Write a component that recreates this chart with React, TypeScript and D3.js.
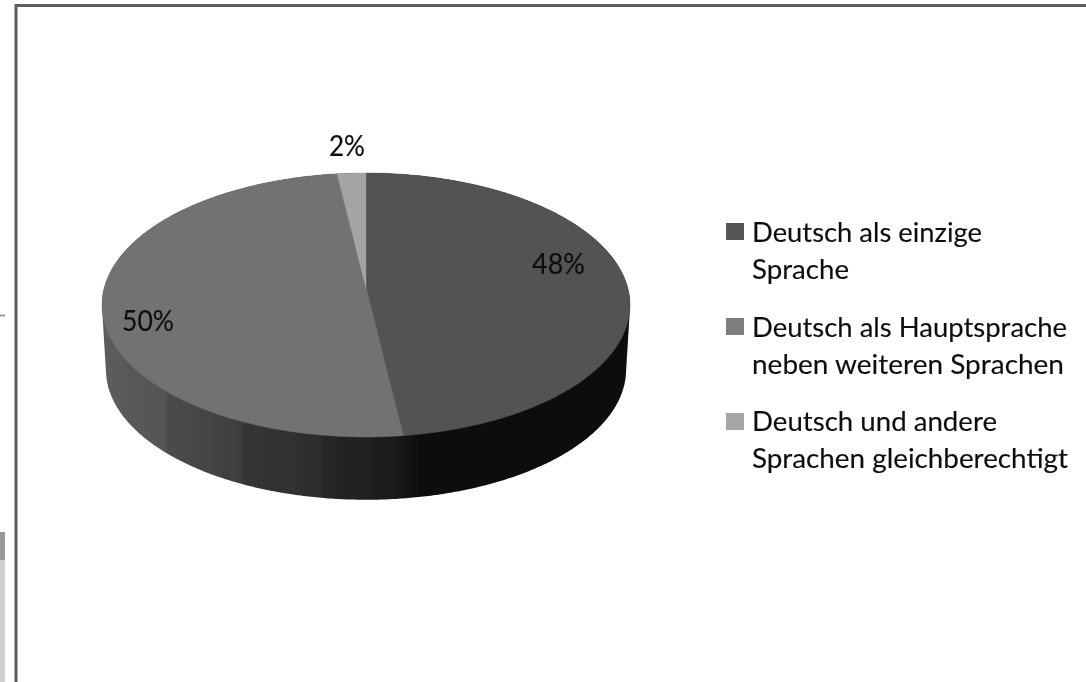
import React from "react";
import * as d3 from "d3";

const W = 1086;
const H = 682;

const categories = [
  "Deutsch als einzige Sprache",
  "Deutsch als Hauptsprache neben weiteren Sprachen",
  "Deutsch und andere Sprachen gleichberechtigt",
];
const values = [48, 50, 2];
const valueLabels = ["48%", "50%", "2%"];
const topColors = ["#525252", "#727272", "#a4a4a4"];
const legendColors = ["#575757", "#7d7d7d", "#a6a6a6"];

const legendLines = [
  ["Deutsch als einzige", "Sprache"],
  ["Deutsch als Hauptsprache", "neben weiteren Sprachen"],
  ["Deutsch und andere", "Sprachen gleichberechtigt"],
];
const legendLineWidths = [
  [230, 97],
  [315, 312],
  [245, 316],
];
const legendBaselines = [
  [242, 279],
  [337, 374],
  [431, 468],
];
const legendSwatchTops = [223, 318, 413];
const labelPos = [
  { x: 532, y: 274, w: 53 },
  { x: 122, y: 331, w: 52 },
  { x: 329, y: 156, w: 36 },
];
const wallStops: [number, string][] = [
  [102, "#5c5c5c"],
  [165, "#555555"],
  [168, "#4c4c4c"],
  [240, "#3e3e3e"],
  [244, "#353535"],
  [320, "#2d2d2d"],
  [325, "#262626"],
  [376, "#1f1f1f"],
  [380, "#1b1b1b"],
  [402, "#191919"],
  [405, "#121212"],
  [420, "#111111"],
  [425, "#0b0b0b"],
  [630, "#080808"],
];

// perspective projection of the unit disc on to the page
const cx = 366;
const cy = 288;
const persp = -0.1288;
const A = 261.8;
const B = 129.8;
const wallDrop = 65;
const wallScale = 0.985;

function project(phi: number, r = 1, s = 1, dy = 0): [number, number] {
  const X = r * Math.sin(phi);
  const Y = -r * Math.cos(phi);
  const w = 1 + persp * Y;
  return [cx + (s * A * X) / w, cy + dy + (s * B * Y) / w];
}

const pieGen = d3
  .pie<number>()
  .sort(null)
  .value((d) => d);
const arcs = pieGen(values);
const line = d3.line();
const TAU = Math.PI * 2;

function samples(a0: number, a1: number): number[] {
  const n = Math.max(2, Math.ceil(((a1 - a0) / TAU) * 720));
  return d3.range(n + 1).map((i) => a0 + ((a1 - a0) * i) / n);
}

function topPath(a0: number, a1: number) {
  const pts = samples(a0, a1).map((p) => project(p));
  return line([[cx, cy], ...pts]) + "Z";
}
function wallPath(a0: number, a1: number) {
  const t = samples(a0, a1);
  const upper = t.map((p) => project(p));
  const lower = t.map((p) => project(p, 1, wallScale, wallDrop));
  const hull = d3.polygonHull([...upper, ...lower]) as [number, number][];
  return line(hull) + "Z";
}

const xGrad = d3.scaleLinear().domain([102, 630]).range([0, 100]);

export default function App() {
  return (
    <svg
      width={W}
      height={H}
      viewBox={`0 0 ${W} ${H}`}
      style={{ position: "absolute", left: 0, top: 0, background: "#fff" }}
    >
      <defs>
        <linearGradient id="wall" gradientUnits="userSpaceOnUse" x1={102} x2={630} y1={0} y2={0}>
          {wallStops.map(([x, c], i) => (
            <stop key={i} offset={`${xGrad(x)}%`} stopColor={c} />
          ))}
        </linearGradient>
        <filter id="soft" x="-5%" y="-5%" width="110%" height="110%">
          <feGaussianBlur stdDeviation="0.5" />
        </filter>
      </defs>

      <g id="page-scraps">
        <rect x={0} y={314.5} width={5} height={2} fill="#999999" />
        <rect x={0} y={532} width={5} height={28} fill="#999999" />
        <rect x={0} y={560} width={5} height={122} fill="#cfcfcf" />
      </g>

      <path d={`M1086 5.5H16V682`} fill="none" stroke="#5e5e5e" strokeWidth={3} />

      <g filter="url(#soft)">
        {arcs.map((a, i) => (
          <path key={`w${i}`} d={wallPath(a.startAngle, a.endAngle)} fill="url(#wall)" />
        ))}
        {arcs.map((a, i) => (
          <path
            key={`t${i}`}
            d={topPath(a.startAngle, a.endAngle)}
            fill={topColors[i]}
            stroke={topColors[i]}
            strokeWidth={0.4}
          >
            <title>{categories[i]}</title>
          </path>
        ))}
      </g>

      <g
        filter="url(#soft)"
        fontFamily="Lato, 'Open Sans', sans-serif"
        fill="#111"
        stroke="#111"
        strokeWidth={0.15}
      >
        {valueLabels.map((t, i) => (
          <text
            key={t}
            x={labelPos[i].x}
            y={labelPos[i].y}
            fontSize={28}
            textLength={labelPos[i].w}
            lengthAdjust="spacingAndGlyphs"
          >
            {t}
          </text>
        ))}
        {legendLines.map((lines, i) => (
          <g key={i}>
            <rect
              x={726}
              y={legendSwatchTops[i]}
              width={18}
              height={17}
              fill={legendColors[i]}
              stroke="none"
            />
            {lines.map((l, j) => (
              <text
                key={j}
                x={752}
                y={legendBaselines[i][j]}
                fontSize={27}
                textLength={legendLineWidths[i][j]}
                lengthAdjust="spacingAndGlyphs"
              >
                {l}
              </text>
            ))}
          </g>
        ))}
      </g>
    </svg>
  );
}
